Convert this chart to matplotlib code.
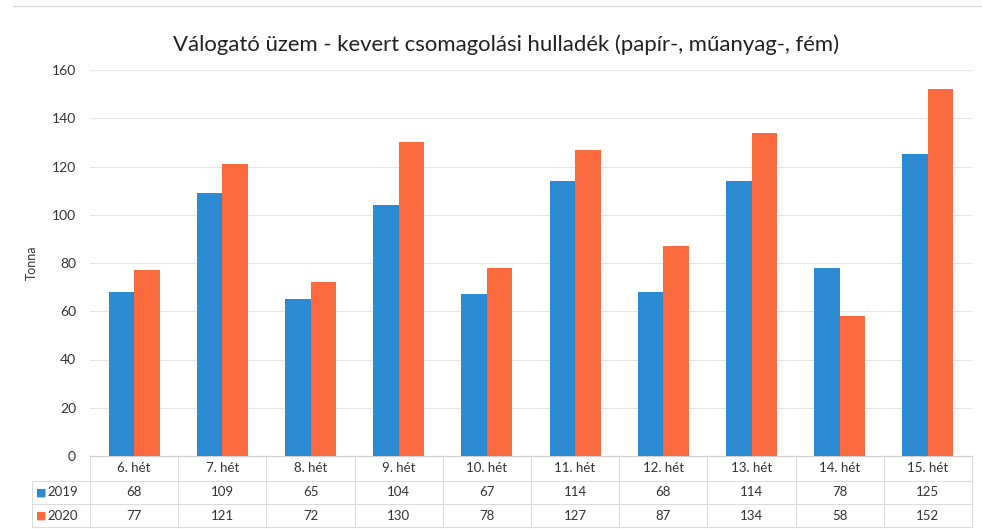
import matplotlib.pyplot as plt
from matplotlib.lines import Line2D
import numpy as np

plt.rcParams['font.family'] = ['Lato', 'DejaVu Sans']

weeks = ['6. hét', '7. hét', '8. hét', '9. hét', '10. hét',
         '11. hét', '12. hét', '13. hét', '14. hét', '15. hét']
series_names = ['2019', '2020']
vals_2019 = [68, 109, 65, 104, 67, 114, 68, 114, 78, 125]
vals_2020 = [77, 121, 72, 130, 78, 127, 87, 134, 58, 152]
colors = ['#2b8ad2', '#fb6a3e']

W, H = 982, 529
fig = plt.figure(figsize=(W / 100, H / 100), dpi=100)
ax = fig.add_axes([90 / W, 1 - 456 / H, 882 / W, 386 / H])

x = np.arange(len(weeks))
bw = 0.29
ax.bar(x - bw / 2, vals_2019, bw, color=colors[0], zorder=3)
ax.bar(x + bw / 2, vals_2020, bw, color=colors[1], zorder=3)

ax.set_xlim(-0.5, len(weeks) - 0.5)
ax.set_ylim(0, 160)
ax.set_yticks(range(0, 161, 20))
ax.grid(axis='y', color='#e6e6e6', linewidth=0.8, zorder=0)
ax.set_xticks([])
for s in ['top', 'right', 'left']:
    ax.spines[s].set_visible(False)
ax.spines['bottom'].set_color('#d0d0d0')
ax.tick_params(axis='y', length=0, labelsize=10, colors='#333333', pad=10)
ax.set_ylabel('Tonna', fontsize=9, color='#333333')
ax.yaxis.set_label_coords(-52 / 882, 0.5)

ax.set_title('Válogató üzem - kevert csomagolási hulladék (papír-, műanyag-, fém)',
             fontsize=15.9, color='#222222', pad=14, x=(506 - 90) / 882)

# data table under the plot
trans = ax.get_xaxis_transform()
ax_h = 386
row_tops = [456, 481, 504, 527]  # pixel y of row borders
def ay(py):
    return -(py - 456) / ax_h

line_kw = dict(color='#dcdcdc', linewidth=0.8, transform=trans, clip_on=False)
left_x = -0.5 - 58 / 88.2
# horizontal lines
ax.add_line(Line2D([-0.5, 9.5], [ay(row_tops[0]), ay(row_tops[0])], **line_kw))
for py in row_tops[1:]:
    ax.add_line(Line2D([left_x, 9.5], [ay(py), ay(py)], **line_kw))
# vertical lines
for i in range(len(weeks) + 1):
    ax.add_line(Line2D([i - 0.5, i - 0.5], [ay(row_tops[0]), ay(row_tops[-1])], **line_kw))
ax.add_line(Line2D([left_x, left_x], [ay(row_tops[1]), ay(row_tops[-1])], **line_kw))

txt_kw = dict(transform=trans, ha='center', va='center', fontsize=9.5,
              color='#333333', clip_on=False)
for i, w in enumerate(weeks):
    ax.text(i, ay((row_tops[0] + row_tops[1]) / 2), w, **txt_kw)
for r, vals in enumerate([vals_2019, vals_2020]):
    yc = ay((row_tops[r + 1] + row_tops[r + 2]) / 2)
    for i, v in enumerate(vals):
        ax.text(i, yc, str(v), **txt_kw)
    ax.text(left_x + 0.1, yc, '■', transform=trans, ha='center', va='center',
            fontsize=8, color=colors[r], family='DejaVu Sans', clip_on=False)
    ax.text(left_x + 0.18, yc, series_names[r], transform=trans, ha='left',
            va='center', fontsize=9.5, color='#333333', clip_on=False)

# thin frame line at the top
fig.add_artist(Line2D([13 / W, 1], [1 - 6 / H, 1 - 6 / H], color='#dddddd',
                      linewidth=1.0, transform=fig.transFigure))

fig.savefig('out.png', dpi=100, facecolor='white')
